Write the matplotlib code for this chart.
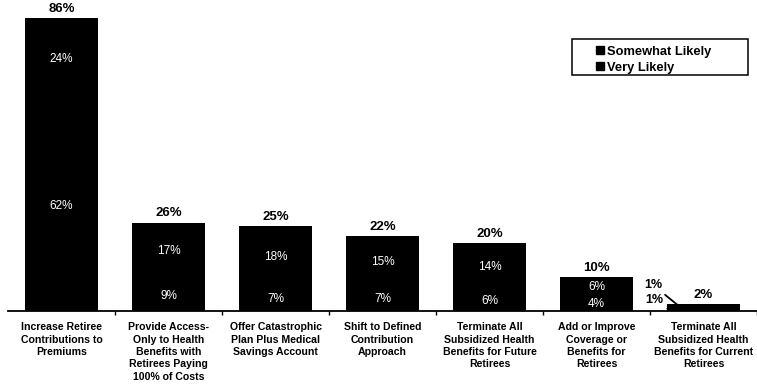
import numpy as np
import matplotlib.pyplot as plt
from matplotlib.lines import Line2D
from matplotlib.patches import Rectangle

plt.rcParams["font.family"] = ["Liberation Sans", "DejaVu Sans"]

categories = [
    "Increase Retiree\nContributions to\nPremiums",
    "Provide Access-\nOnly to Health\nBenefits with\nRetirees Paying\n100% of Costs",
    "Offer Catastrophic\nPlan Plus Medical\nSavings Account",
    "Shift to Defined\nContribution\nApproach",
    "Terminate All\nSubsidized Health\nBenefits for Future\nRetirees",
    "Add or Improve\nCoverage or\nBenefits for\nRetirees",
    "Terminate All\nSubsidized Health\nBenefits for Current\nRetirees",
]
very_likely = [62, 9, 7, 7, 6, 4, 1]
somewhat_likely = [24, 17, 18, 15, 14, 6, 1]
totals = [86, 26, 25, 22, 20, 10, 2]

fig = plt.figure(figsize=(7.57, 3.89), dpi=100)
ax = fig.add_axes([0.0106, 0.2005, 0.9894, 0.787])

x = np.arange(len(categories))
w = 0.69
ax.bar(x, very_likely, width=w, color="#000000", label="Very Likely")
ax.bar(x, somewhat_likely, width=w, bottom=very_likely, color="#000000",
       label="Somewhat Likely")

# segment labels inside the bars (last bar is too thin, labelled outside)
for i in range(len(categories) - 1):
    ax.text(x[i], very_likely[i] / 2, f"{very_likely[i]}%", ha="center",
            va="center", color="white", fontsize=8.5)
    ax.text(x[i], very_likely[i] + somewhat_likely[i] / 2,
            f"{somewhat_likely[i]}%", ha="center", va="center",
            color="white", fontsize=8.5)

last = len(categories) - 1
ax.annotate(f"{somewhat_likely[last]}%", xy=(x[last] - 0.22, very_likely[last] + 0.2),
            xytext=(x[last] - 0.47, 7.6), fontsize=9, fontweight="bold",
            ha="center", va="center",
            arrowprops=dict(arrowstyle="-", color="black", lw=1.3,
                            shrinkA=1, shrinkB=0))
ax.annotate(f"{very_likely[last]}%", xy=(x[last] - 0.33, very_likely[last] / 2),
            xytext=(x[last] - 0.46, 3.2), fontsize=9, fontweight="bold",
            ha="center", va="center",
            arrowprops=dict(arrowstyle="-", color="black", lw=1.3,
                            shrinkA=1, shrinkB=0))

# totals above each bar
for i, t in enumerate(totals):
    ax.text(x[i], t + 2.7, f"{t}%", ha="center", va="center",
            fontsize=9.5, fontweight="bold")

ax.set_xlim(-0.5, len(categories) - 0.5)
ax.set_ylim(0, 90)
ax.set_yticks([])
ax.set_xticks(x)
ax.set_xticklabels(categories, fontsize=7.6, fontweight="bold", linespacing=1.3)
ax.tick_params(axis="x", length=0, pad=8)
ax.set_xticks(np.arange(len(categories)) + 0.5, minor=True)
ax.tick_params(axis="x", which="minor", length=3, width=1, direction="out")
for s in ["top", "right", "left"]:
    ax.spines[s].set_visible(False)
ax.spines["bottom"].set_linewidth(1.3)

# legend: entries without frame, box drawn separately so it can be wider
handles = [
    Line2D([], [], marker="s", color="black", linestyle="", markersize=6,
           label="Somewhat Likely"),
    Line2D([], [], marker="s", color="black", linestyle="", markersize=6,
           label="Very Likely"),
]
ax.legend(handles=handles, loc="upper left", bbox_to_anchor=(0.786, 0.866),
          frameon=False, handlelength=0.5, handletextpad=0.3, borderpad=0,
          borderaxespad=0, labelspacing=0.3,
          prop={"size": 9.3, "weight": "bold"})
ax.add_patch(Rectangle((0.753, 0.770), 0.235, 0.119, transform=ax.transAxes,
                       fill=False, edgecolor="black", lw=1.1, clip_on=False))

fig.savefig("out.png", dpi=100)
